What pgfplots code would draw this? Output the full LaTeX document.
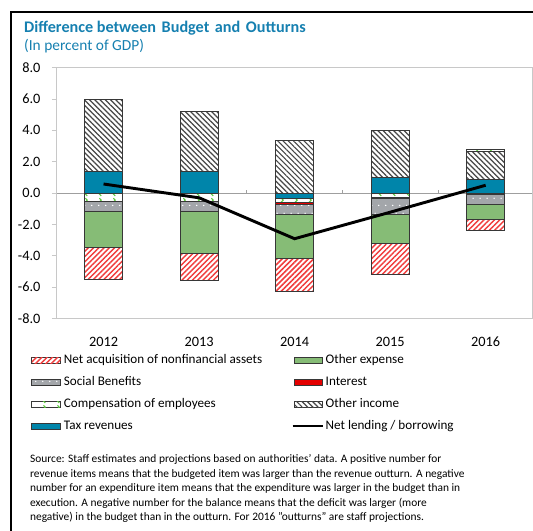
\documentclass[border=0pt]{standalone}
\usepackage{fontspec}
\setmainfont{Carlito}
\usepackage{pgfplots}
\pgfplotsset{compat=1.18}
\usetikzlibrary{patterns,patterns.meta}

\definecolor{taxc}{RGB}{0,133,170}
\definecolor{oec}{RGB}{134,188,118}
\definecolor{socc}{RGB}{163,166,170}
\definecolor{intc}{RGB}{228,0,0}
\definecolor{titc}{RGB}{22,128,176}
\definecolor{barb}{RGB}{55,55,55}
\definecolor{compg}{RGB}{90,200,60}
\definecolor{axg}{RGB}{200,200,200}
\definecolor{hatchr}{RGB}{240,60,60}
\definecolor{hatchk}{RGB}{70,70,70}

\tikzdeclarepattern{
  name=nelines, type=uncolored,
  bounding box={(0pt,-1.4pt) and (2.8pt,1.4pt)},
  tile size={(2.8pt,2.8pt)},
  tile transformation={rotate=45},
  code={\draw[line width=1.1pt] (-0.2pt,0pt) -- (3pt,0pt);}
}
\tikzdeclarepattern{
  name=nwlines, type=uncolored,
  bounding box={(0pt,-1.4pt) and (2.8pt,1.4pt)},
  tile size={(2.8pt,2.8pt)},
  tile transformation={rotate=-45},
  code={\draw[line width=0.9pt] (-0.2pt,0pt) -- (3pt,0pt);}
}
\tikzdeclarepattern{
  name=wdots, type=uncolored,
  bounding box={(0pt,0pt) and (5.25pt,11pt)},
  tile size={(5.25pt,11pt)},
  code={\fill (1.3pt,2.75pt) circle (0.6pt); \fill (3.9pt,8.25pt) circle (0.6pt);}
}
\tikzdeclarepattern{
  name=gmarks, type=uncolored,
  bounding box={(0pt,0pt) and (10.5pt,6pt)},
  tile size={(10.5pt,6pt)},
  code={\draw[line width=0.8pt] (3.2pt,0.8pt) -- (1.8pt,2.2pt) -- (3.2pt,3.6pt) -- (1.8pt,5pt);}
}

\tikzset{
  naS/.style={fill=white, draw=barb, line width=0.6pt, postaction={pattern=nelines, pattern color=hatchr}},
  oeS/.style={fill=oec, draw=barb, line width=0.6pt},
  socS/.style={fill=socc, draw=barb, line width=0.6pt, postaction={pattern=wdots, pattern color=white}},
  intS/.style={fill=intc, draw=barb, line width=0.6pt},
  compS/.style={fill=white, draw=barb, line width=0.6pt, postaction={pattern=gmarks, pattern color=compg}},
  oiS/.style={fill=white, draw=barb, line width=0.6pt, postaction={pattern=nwlines, pattern color=hatchk}},
  taxS/.style={fill=taxc, draw=barb, line width=0.6pt},
}

\pgfplotsset{
  common/.style={
    at={(42.75pt,-240pt)}, anchor=south west,
    scale only axis, width=358.5pt, height=189pt,
    xmin=-0.49, xmax=4.49, ymin=-8, ymax=8,
  },
}

\begin{document}
\begin{tikzpicture}
\begin{scope}[x=0.75pt,y=-0.75pt]
\useasboundingbox (0,0) rectangle (532,533);
\draw[line width=1.5pt] (11,540) -- (11,12) -- (540,12);
\node[anchor=base west, text=titc, font=\bfseries\fontsize{12.2}{14}\selectfont, inner sep=0] at (24,33) {Difference between\hspace{0.12em} Budget\hspace{0.12em} and\hspace{0.12em} Outturns};
\node[anchor=base west, text=titc, font=\fontsize{11.6}{13}\selectfont, inner sep=0] at (24,51) {(In percent of GDP)};
\end{scope}

% negative stack + axis decorations
\begin{axis}[common,
  ybar stacked, bar width=28.5pt,
  axis line style={draw=axg, line width=0.8pt},
  ytick={-8,-6,...,8}, ytick pos=left, tick align=outside, major tick length=3.75pt,
  y tick style={draw=axg, line width=0.6pt},
  /pgf/number format/assume math mode=true,
  yticklabel style={/pgf/number format/.cd, fixed, fixed zerofill, precision=1, /tikz/.cd, font=\fontsize{10.8}{12}\selectfont, xshift=-5pt},
  xtick={0,1,2,3,4}, xticklabels={2012,2013,2014,2015,2016},
  x tick style={draw=none},
  xticklabel style={font=\fontsize{10.8}{12}\selectfont, yshift=-6.8pt},
]
\draw[draw=gray!75, line width=0.8pt] (axis cs:-0.49,0) -- (axis cs:4.49,0);
\draw[draw=gray!75, line width=0.6pt] (axis cs:0.5,0) -- ++(0pt,2.2pt);
\draw[draw=gray!75, line width=0.6pt] (axis cs:1.5,0) -- ++(0pt,2.2pt);
\draw[draw=gray!75, line width=0.6pt] (axis cs:2.5,0) -- ++(0pt,2.2pt);
\draw[draw=gray!75, line width=0.6pt] (axis cs:3.5,0) -- ++(0pt,2.2pt);
% Tax revenues (negative part)
\addplot[taxS] coordinates {(0,0) (1,0) (2,-0.35) (3,0) (4,0)};
% Compensation of employees (negative part)
\addplot[compS] coordinates {(0,-0.56) (1,-0.52) (2,-0.27) (3,-0.25) (4,0)};
% Interest
\addplot[intS] coordinates {(0,0) (1,0) (2,-0.12) (3,-0.12) (4,-0.1)};
% Social Benefits
\addplot[socS] coordinates {(0,-0.6) (1,-0.64) (2,-0.6) (3,-1.0) (4,-0.6)};
% Other expense
\addplot[oeS] coordinates {(0,-2.32) (1,-2.71) (2,-2.8) (3,-1.81) (4,-1.0)};
% Net acquisition of nonfinancial assets
\addplot[naS] coordinates {(0,-2.04) (1,-1.71) (2,-2.16) (3,-2.02) (4,-0.7)};
\end{axis}

% positive stack
\begin{axis}[common, hide axis, ybar stacked, bar width=28.5pt]
\addplot[taxS] coordinates {(0,1.39) (1,1.39) (2,0) (3,0.97) (4,0.85)};
\addplot[oiS] coordinates {(0,4.6) (1,3.81) (2,3.36) (3,3.0) (4,1.8)};
\addplot[compS] coordinates {(0,0) (1,0) (2,0) (3,0) (4,0.15)};
\end{axis}

% net lending / borrowing
\begin{axis}[common, hide axis]
\addplot[black, line width=2.2pt, mark=none] coordinates {(0,0.58) (1,-0.3) (2,-2.91) (3,-1.22) (4,0.5)};
\end{axis}

\begin{scope}[x=0.75pt,y=-0.75pt]
\tikzset{lt/.style={anchor=base west, inner sep=0, font=\fontsize{9.9}{11}\selectfont}}
% column 1
\path[naS] (32,359) rectangle (61,365);
\node[lt] at (64,365.5) {Net acquisition of nonfinancial assets};
\path[socS] (32,381) rectangle (61,387);
\node[lt] at (64,387.5) {Social Benefits};
\path[compS] (32,403) rectangle (61,409);
\node[lt] at (64,409.5) {Compensation of employees};
\path[taxS] (32,425) rectangle (61,431);
\node[lt] at (64,431.5) {Tax revenues};
% column 2
\path[oeS] (296,359) rectangle (324,365);
\node[lt] at (327,365.5) {Other expense};
\path[intS] (296,381) rectangle (324,387);
\node[lt] at (327,387.5) {Interest};
\path[oiS] (296,403) rectangle (324,409);
\node[lt] at (327,409.5) {Other income};
\draw[black, line width=2.2pt] (294,428) -- (325,428);
\node[lt] at (327,431.5) {Net lending / borrowing};
% note
\tikzset{nt/.style={anchor=base west, inner sep=0, font=\fontsize{8.6}{10}\selectfont}}
\node[nt] at (30,465) {Source: Staff estimates and projections based on authorities’ data. A positive number for};
\node[nt] at (30,479.5) {revenue items means that the budgeted item was larger than the revenue outturn. A negative};
\node[nt] at (30,494) {number for an expenditure item means that the expenditure was larger in the budget than in};
\node[nt] at (30,508.5) {execution. A negative number for the balance means that the deficit was larger (more};
\node[nt] at (30,523) {negative) in the budget than in the outturn. For 2016 "outturns" are staff projections.};
\end{scope}
\end{tikzpicture}
\end{document}
